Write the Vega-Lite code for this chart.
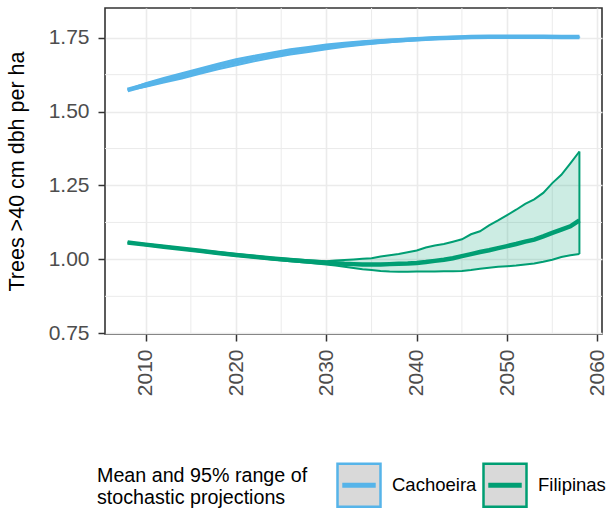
{
  "$schema": "https://vega.github.io/schema/vega-lite/v6.json",
  "width": 497,
  "height": 326,
  "autosize": {"type": "none"},
  "padding": {"left": 105, "top": 8, "right": 12, "bottom": 176},
  "background": "white",
  "config": {
    "font": "Liberation Sans",
    "view": {"stroke": "#333333", "strokeWidth": 1.6}
  },
  "datasets": {
    "proj": [
      {"site": "Cachoeira", "year": 2008, "mean": 1.573, "lo": 1.572, "hi": 1.574},
      {"site": "Cachoeira", "year": 2010, "mean": 1.590, "lo": 1.584, "hi": 1.596},
      {"site": "Cachoeira", "year": 2012, "mean": 1.606, "lo": 1.598, "hi": 1.614},
      {"site": "Cachoeira", "year": 2014, "mean": 1.621, "lo": 1.612, "hi": 1.630},
      {"site": "Cachoeira", "year": 2016, "mean": 1.637, "lo": 1.628, "hi": 1.646},
      {"site": "Cachoeira", "year": 2018, "mean": 1.653, "lo": 1.643, "hi": 1.662},
      {"site": "Cachoeira", "year": 2020, "mean": 1.667, "lo": 1.657, "hi": 1.677},
      {"site": "Cachoeira", "year": 2022, "mean": 1.680, "lo": 1.670, "hi": 1.689},
      {"site": "Cachoeira", "year": 2024, "mean": 1.691, "lo": 1.682, "hi": 1.700},
      {"site": "Cachoeira", "year": 2026, "mean": 1.702, "lo": 1.693, "hi": 1.711},
      {"site": "Cachoeira", "year": 2028, "mean": 1.711, "lo": 1.702, "hi": 1.719},
      {"site": "Cachoeira", "year": 2030, "mean": 1.719, "lo": 1.711, "hi": 1.727},
      {"site": "Cachoeira", "year": 2032, "mean": 1.726, "lo": 1.719, "hi": 1.733},
      {"site": "Cachoeira", "year": 2034, "mean": 1.732, "lo": 1.726, "hi": 1.738},
      {"site": "Cachoeira", "year": 2036, "mean": 1.737, "lo": 1.732, "hi": 1.742},
      {"site": "Cachoeira", "year": 2038, "mean": 1.741, "lo": 1.737, "hi": 1.745},
      {"site": "Cachoeira", "year": 2040, "mean": 1.745, "lo": 1.741, "hi": 1.748},
      {"site": "Cachoeira", "year": 2042, "mean": 1.748, "lo": 1.745, "hi": 1.751},
      {"site": "Cachoeira", "year": 2044, "mean": 1.750, "lo": 1.748, "hi": 1.753},
      {"site": "Cachoeira", "year": 2046, "mean": 1.752, "lo": 1.750, "hi": 1.754},
      {"site": "Cachoeira", "year": 2048, "mean": 1.753, "lo": 1.751, "hi": 1.755},
      {"site": "Cachoeira", "year": 2050, "mean": 1.753, "lo": 1.751, "hi": 1.755},
      {"site": "Cachoeira", "year": 2052, "mean": 1.753, "lo": 1.752, "hi": 1.755},
      {"site": "Cachoeira", "year": 2054, "mean": 1.753, "lo": 1.752, "hi": 1.754},
      {"site": "Cachoeira", "year": 2056, "mean": 1.752, "lo": 1.751, "hi": 1.754},
      {"site": "Cachoeira", "year": 2058, "mean": 1.752, "lo": 1.751, "hi": 1.753},
      {"site": "Filipinas", "year": 2008, "mean": 1.057, "lo": 1.056, "hi": 1.058},
      {"site": "Filipinas", "year": 2010, "mean": 1.050, "lo": 1.048, "hi": 1.052},
      {"site": "Filipinas", "year": 2012, "mean": 1.043, "lo": 1.041, "hi": 1.045},
      {"site": "Filipinas", "year": 2014, "mean": 1.036, "lo": 1.034, "hi": 1.038},
      {"site": "Filipinas", "year": 2016, "mean": 1.029, "lo": 1.027, "hi": 1.031},
      {"site": "Filipinas", "year": 2018, "mean": 1.022, "lo": 1.019, "hi": 1.025},
      {"site": "Filipinas", "year": 2020, "mean": 1.015, "lo": 1.012, "hi": 1.018},
      {"site": "Filipinas", "year": 2022, "mean": 1.009, "lo": 1.006, "hi": 1.012},
      {"site": "Filipinas", "year": 2024, "mean": 1.003, "lo": 1.000, "hi": 1.006},
      {"site": "Filipinas", "year": 2026, "mean": 0.998, "lo": 0.994, "hi": 1.001},
      {"site": "Filipinas", "year": 2028, "mean": 0.993, "lo": 0.989, "hi": 0.997},
      {"site": "Filipinas", "year": 2030, "mean": 0.989, "lo": 0.983, "hi": 0.994},
      {"site": "Filipinas", "year": 2031, "mean": 0.987, "lo": 0.979, "hi": 0.996},
      {"site": "Filipinas", "year": 2032, "mean": 0.985, "lo": 0.975, "hi": 0.998},
      {"site": "Filipinas", "year": 2033, "mean": 0.984, "lo": 0.971, "hi": 1.000},
      {"site": "Filipinas", "year": 2034, "mean": 0.983, "lo": 0.967, "hi": 1.002},
      {"site": "Filipinas", "year": 2035, "mean": 0.983, "lo": 0.964, "hi": 1.004},
      {"site": "Filipinas", "year": 2036, "mean": 0.983, "lo": 0.961, "hi": 1.010},
      {"site": "Filipinas", "year": 2037, "mean": 0.984, "lo": 0.959, "hi": 1.014},
      {"site": "Filipinas", "year": 2038, "mean": 0.985, "lo": 0.958, "hi": 1.018},
      {"site": "Filipinas", "year": 2039, "mean": 0.986, "lo": 0.958, "hi": 1.024},
      {"site": "Filipinas", "year": 2040, "mean": 0.988, "lo": 0.959, "hi": 1.030},
      {"site": "Filipinas", "year": 2041, "mean": 0.991, "lo": 0.959, "hi": 1.040},
      {"site": "Filipinas", "year": 2042, "mean": 0.995, "lo": 0.959, "hi": 1.047},
      {"site": "Filipinas", "year": 2043, "mean": 0.999, "lo": 0.960, "hi": 1.052},
      {"site": "Filipinas", "year": 2044, "mean": 1.004, "lo": 0.960, "hi": 1.060},
      {"site": "Filipinas", "year": 2045, "mean": 1.011, "lo": 0.961, "hi": 1.068},
      {"site": "Filipinas", "year": 2046, "mean": 1.018, "lo": 0.964, "hi": 1.085},
      {"site": "Filipinas", "year": 2047, "mean": 1.025, "lo": 0.968, "hi": 1.095},
      {"site": "Filipinas", "year": 2048, "mean": 1.031, "lo": 0.972, "hi": 1.115},
      {"site": "Filipinas", "year": 2049, "mean": 1.038, "lo": 0.975, "hi": 1.132},
      {"site": "Filipinas", "year": 2050, "mean": 1.045, "lo": 0.977, "hi": 1.150},
      {"site": "Filipinas", "year": 2051, "mean": 1.052, "lo": 0.979, "hi": 1.168},
      {"site": "Filipinas", "year": 2052, "mean": 1.060, "lo": 0.983, "hi": 1.188},
      {"site": "Filipinas", "year": 2053, "mean": 1.067, "lo": 0.986, "hi": 1.203},
      {"site": "Filipinas", "year": 2054, "mean": 1.078, "lo": 0.992, "hi": 1.225},
      {"site": "Filipinas", "year": 2055, "mean": 1.090, "lo": 0.999, "hi": 1.258},
      {"site": "Filipinas", "year": 2056, "mean": 1.101, "lo": 1.008, "hi": 1.286},
      {"site": "Filipinas", "year": 2057, "mean": 1.112, "lo": 1.014, "hi": 1.325},
      {"site": "Filipinas", "year": 2058, "mean": 1.132, "lo": 1.018, "hi": 1.365}
    ],
    "minorx": [{"year": 2015}, {"year": 2025}, {"year": 2035}, {"year": 2045}, {"year": 2055}],
    "minory": [{"v": 0.875}, {"v": 1.125}, {"v": 1.375}, {"v": 1.625}]
  },
  "layer": [
    {
      "data": {"name": "minorx"},
      "mark": {"type": "rule", "color": "#EBEBEB", "strokeWidth": 1},
      "encoding": {
        "x": {"field": "year", "type": "quantitative", "scale": {"domain": [2005.5, 2060.5], "nice": false, "zero": false},
          "axis": {"values": [2010, 2020, 2030, 2040, 2050, 2060], "format": "d", "labelAngle": -90, "labelAlign": "right", "labelBaseline": "middle", "title": null, "grid": true, "gridColor": "#EBEBEB", "gridWidth": 1.6, "domain": false, "tickColor": "#333333", "tickSize": 7, "tickWidth": 1.5, "labelFontSize": 21, "labelColor": "#4D4D4D", "labelPadding": 8}}
      }
    },
    {
      "data": {"name": "minory"},
      "mark": {"type": "rule", "color": "#EBEBEB", "strokeWidth": 1},
      "encoding": {
        "y": {"field": "v", "type": "quantitative", "scale": {"domain": [0.7476, 1.8505], "nice": false, "zero": false},
          "axis": {"values": [0.75, 1, 1.25, 1.5, 1.75], "format": ".2f", "title": "Trees >40 cm dbh per ha", "titleFontSize": 21.5, "titleFontWeight": "normal", "titleColor": "#000000", "titleLimit": 400, "titlePadding": 20, "grid": true, "gridColor": "#EBEBEB", "gridWidth": 1.6, "domain": false, "tickColor": "#333333", "tickSize": 7, "tickWidth": 1.5, "labelFontSize": 21, "labelColor": "#4D4D4D", "labelPadding": 9}}
      }
    },
    {
      "data": {"name": "proj"},
      "mark": {"type": "area", "opacity": 0.2},
      "encoding": {
        "x": {"field": "year", "type": "quantitative"},
        "y": {"field": "lo", "type": "quantitative", "title": "Trees >40 cm dbh per ha"},
        "y2": {"field": "hi"},
        "fill": {"field": "site", "type": "nominal", "scale": {"domain": ["Filipinas", "Cachoeira"], "range": ["#009E73", "#56B4E9"]}, "legend": null}
      }
    },
    {
      "data": {"name": "proj"},
      "mark": {"type": "line", "strokeWidth": 2},
      "encoding": {
        "x": {"field": "year", "type": "quantitative"},
        "y": {"field": "lo", "type": "quantitative", "title": "Trees >40 cm dbh per ha"},
        "stroke": {"field": "site", "type": "nominal", "scale": {"domain": ["Cachoeira", "Filipinas"], "range": ["#56B4E9", "#009E73"]}}
      }
    },
    {
      "data": {"name": "proj"},
      "mark": {"type": "line", "strokeWidth": 2},
      "encoding": {
        "x": {"field": "year", "type": "quantitative"},
        "y": {"field": "hi", "type": "quantitative", "title": "Trees >40 cm dbh per ha"},
        "stroke": {"field": "site", "type": "nominal"}
      }
    },
    {
      "data": {"name": "proj"},
      "transform": [{"filter": "datum.year == 2058"}],
      "mark": {"type": "rule", "strokeWidth": 2},
      "encoding": {
        "x": {"field": "year", "type": "quantitative"},
        "y": {"field": "lo", "type": "quantitative", "title": "Trees >40 cm dbh per ha"},
        "y2": {"field": "hi"},
        "stroke": {"field": "site", "type": "nominal"}
      }
    },
    {
      "data": {"name": "proj"},
      "mark": {"type": "line", "strokeWidth": 4.5},
      "encoding": {
        "x": {"field": "year", "type": "quantitative"},
        "y": {"field": "mean", "type": "quantitative", "title": "Trees >40 cm dbh per ha"},
        "stroke": {"field": "site", "type": "nominal",
          "legend": {"orient": "none", "legendX": -8, "legendY": 454, "direction": "horizontal", "title": ["Mean and 95% range of", "stochastic projections"], "titleOrient": "left", "titleFontSize": 19.7, "titleFontWeight": "normal", "titleColor": "#000000", "titleLimit": 400, "titleLineHeight": 22, "titlePadding": 28, "titleAnchor": "middle", "titleBaseline": "middle", "symbolType": "M-1,-1H1V1H-1Z M-0.72,-0.06H0.72V0.06H-0.72Z", "symbolSize": 1849, "symbolStrokeWidth": 2.5, "symbolFillColor": "#D9D9D9", "symbolOpacity": 1, "labelFontSize": 18.5, "labelColor": "#000000", "labelOffset": 10, "columnPadding": 1, "labelLimit": 300, "padding": 0}}
      }
    }
  ]
}
